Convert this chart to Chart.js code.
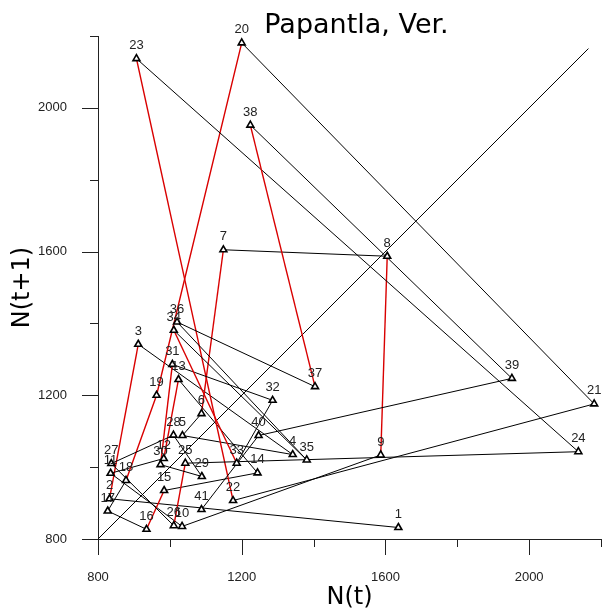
<!DOCTYPE html>
<html lang="en">
<head>
<meta charset="UTF-8">
<title>Papantla, Ver.</title>
<script src="https://cdn.jsdelivr.net/npm/chart.js@4.4.1/dist/chart.umd.min.js"></script>
<style>
  html, body { margin: 0; padding: 0; background: #fff; }
</style>
</head>
<body>
<canvas id="phaseChart" width="602" height="613"></canvas>
<script>
// yearly counts N(t); point k is (N[k-1], N[k])
const counts = [1636, 832, 912, 1342, 1035, 1088, 1149, 1605, 1587, 1034,
                835, 983, 1024, 1244, 984, 935, 827, 878, 963, 1200,
                2181, 1176, 907, 2137, 1043, 1011, 837, 1010, 1089, 974,
                1007, 1286, 1186, 1011, 1381, 1020, 1404, 1224, 1952, 1247,
                1088, 882];
// steps k -> k+1 that are drawn in red (k = number of the starting point)
const redSteps = [2, 6, 8, 12, 15, 18, 19, 22, 25, 30, 33, 37];
// the N(t+1) = N(t) reference line
const diagonal = [800, 2165];
const majorTicks = [800, 1200, 1600, 2000];

const points = [];
for (let i = 0; i < counts.length - 1; i++) {
  points.push({x: counts[i], y: counts[i + 1]});
}

const extras = {
  id: 'extras',
  afterDraw(chart) {
    const ctx = chart.ctx;
    const xs = chart.scales.x, ys = chart.scales.y;
    ctx.save();
    // tick marks, long ones where there is a label
    ctx.strokeStyle = '#222';
    ctx.lineWidth = 1;
    xs.ticks.forEach(t => {
      const px = Math.round(xs.getPixelForValue(t.value)) + 0.5;
      const len = majorTicks.includes(t.value) ? 16 : 8;
      ctx.beginPath();
      ctx.moveTo(px, xs.top);
      ctx.lineTo(px, xs.top + len);
      ctx.stroke();
    });
    ys.ticks.forEach(t => {
      const py = Math.round(ys.getPixelForValue(t.value)) + 0.5;
      const len = majorTicks.includes(t.value) ? 16 : 8;
      ctx.beginPath();
      ctx.moveTo(ys.right, py);
      ctx.lineTo(ys.right - len, py);
      ctx.stroke();
    });

    // point numbers
    const meta = chart.getDatasetMeta(0);
    ctx.font = '13px "Liberation Sans", Arial, sans-serif';
    ctx.fillStyle = '#222';
    ctx.textAlign = 'center';
    ctx.textBaseline = 'middle';
    meta.data.forEach((pt, i) => ctx.fillText(String(i + 1), pt.x, pt.y - 13));

    // title
    const area = chart.chartArea;
    ctx.font = '27px "DejaVu Sans", sans-serif';
    ctx.fillStyle = '#000';
    ctx.textBaseline = 'alphabetic';
    ctx.fillText('Papantla, Ver.', (area.left + area.right) / 2 + 7, 33);
    ctx.restore();
  }
};

new Chart(document.getElementById('phaseChart'), {
  type: 'scatter',
  data: {
    datasets: [{
      data: points,
      showLine: true,
      borderColor: '#000',
      borderWidth: 1,
      segment: {
        borderColor: c => redSteps.includes(c.p0DataIndex + 1) ? '#d90000' : '#000',
        borderWidth: c => redSteps.includes(c.p0DataIndex + 1) ? 1.4 : 1
      },
      pointStyle: 'triangle',
      pointRadius: 4,
      pointBorderWidth: 1.6,
      pointBorderColor: '#000',
      pointBackgroundColor: '#fff',
      clip: false
    }, {
      data: [{x: diagonal[0], y: diagonal[0]}, {x: diagonal[1], y: diagonal[1]}],
      showLine: true,
      borderColor: '#000',
      borderWidth: 1,
      pointRadius: 0
    }]
  },
  options: {
    responsive: false,
    animation: false,
    devicePixelRatio: 1,
    layout: {autoPadding: false, padding: {top: 36, right: 1, left: 0, bottom: 0}},
    plugins: {
      legend: {display: false},
      tooltip: {enabled: false},
      title: {display: false}
    },
    scales: {
      x: {
        type: 'linear',
        min: 800,
        max: 2200,
        afterFit(s) { s.height = 74; s.paddingLeft = 0; s.paddingRight = 0; },
        grid: {display: false},
        border: {display: true, color: '#222', width: 1},
        ticks: {
          stepSize: 200,
          autoSkip: false,
          maxRotation: 0,
          padding: 23,
          color: '#222',
          font: {family: '"Liberation Sans", Arial, sans-serif', size: 13},
          callback: v => majorTicks.includes(v) ? String(v) : ''
        },
        title: {
          display: true,
          text: 'N(t)',
          color: '#000',
          font: {family: '"DejaVu Sans", sans-serif', size: 24},
          padding: {top: 0, bottom: 1}
        }
      },
      y: {
        type: 'linear',
        min: 800,
        max: 2200,
        afterFit(s) { s.width = 98; s.paddingTop = 0; s.paddingBottom = 0; },
        grid: {display: false},
        border: {display: true, color: '#222', width: 1},
        ticks: {
          stepSize: 200,
          autoSkip: false,
          padding: 23,
          color: '#222',
          font: {family: '"Liberation Sans", Arial, sans-serif', size: 13},
          callback: v => majorTicks.includes(v) ? String(v) : ''
        },
        title: {
          display: true,
          text: 'N(t+1)',
          color: '#000',
          font: {family: '"DejaVu Sans", sans-serif', size: 24},
          padding: {top: 8, bottom: 0}
        }
      }
    }
  },
  plugins: [extras]
});
</script>
</body>
</html>
